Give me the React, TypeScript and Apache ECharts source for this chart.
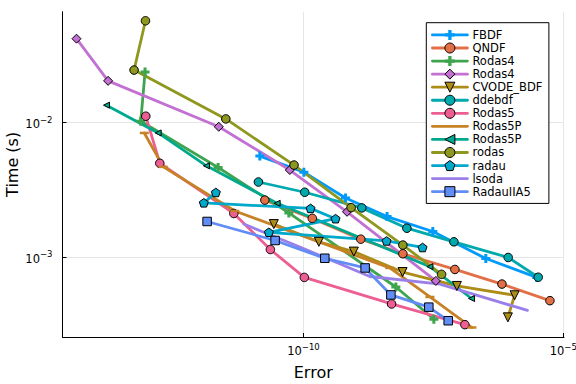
import React, { useEffect, useRef } from 'react';
import * as echarts from 'echarts';

// ---- data (Error, Time in seconds) ----
const seriesLabels = ['FBDF', 'QNDF', 'Rodas4', 'Rodas4', 'CVODE_BDF', 'ddebdf', 'Rodas5', 'Rodas5P', 'Rodas5P', 'rodas', 'radau', 'lsoda', 'RadauIIA5'];

const fbdfError = [1.45e-11, 1.02e-10, 6.46e-10, 4.07e-9, 3.09e-8, 3.24e-7, 3.09e-6];
const fbdfTime = [5.62e-3, 4.27e-3, 2.75e-3, 2.0e-3, 1.55e-3, 9.77e-4, 7.08e-4];

const qndfError = [1.81e-11, 1.48e-10, 1.27e-9, 8.2e-9, 8.22e-8, 6.61e-7, 5.55e-6];
const qndfTime = [2.65e-3, 1.94e-3, 1.36e-3, 1.06e-3, 8.11e-4, 6.32e-4, 4.76e-4];

const rodas4aError = [8.95e-14, 7.4e-14, 2.28e-12, 5.24e-11, 6.01e-9, 3.24e-8];
const rodas4aTime = [2.36e-2, 1.02e-2, 4.62e-3, 2.13e-3, 6.01e-4, 3.47e-4];

const rodas4bError = [4.29e-15, 1.74e-14, 2.35e-12, 5.47e-11, 6.9e-10, 3.54e-8];
const rodas4bTime = [4.17e-2, 2.03e-2, 9.27e-3, 4.43e-3, 2.17e-3, 6.67e-4];

const cvodeError = [2.69e-11, 1.98e-10, 9.33e-10, 8.09e-9, 8.97e-8, 1.16e-6, 8.61e-7];
const cvodeTime = [1.76e-3, 1.3e-3, 1.1e-3, 7.76e-4, 6.12e-4, 5.22e-4, 3.58e-4];

const ddebdfError = [1.36e-11, 1.06e-10, 1.33e-9, 9.79e-9, 7.87e-8, 8.73e-7, 3.3e-6];
const ddebdfTime = [3.61e-3, 3.03e-3, 2.32e-3, 1.64e-3, 1.3e-3, 9.95e-4, 7.1e-4];

const rodas5Error = [9.25e-14, 1.72e-13, 4.57e-12, 2.31e-11, 1.04e-10, 4.97e-9, 1.28e-7];
const rodas5Time = [1.11e-2, 4.97e-3, 2.11e-3, 1.14e-3, 7.08e-4, 4.5e-4, 3.16e-4];

const rodas5PaError = [8.65e-14, 2.01e-13, 4.78e-12, 4.6e-9, 2.72e-8, 1.75e-7];
const rodas5PaTime = [8.34e-3, 4.67e-3, 2.2e-3, 8.32e-4, 5.07e-4, 3.01e-4];

const rodas5PbError = [1.62e-14, 1.6e-13, 1.36e-12, 3.12e-11, 2.72e-8, 1.72e-7];
const rodas5PbTime = [1.34e-2, 8.34e-3, 4.76e-3, 2.51e-3, 8.51e-4, 4.94e-4];

const rodasError = [9.12e-14, 5.5e-14, 3.21e-12, 6.59e-11, 8.28e-10, 8.2e-9, 4.56e-8];
const rodasTime = [5.66e-2, 2.44e-2, 1.06e-2, 4.82e-3, 2.33e-3, 1.23e-3, 7.46e-4];

const radauError = [2.06e-12, 1.21e-12, 1.37e-10, 4.15e-10, 2.16e-11, 3.98e-9, 1.96e-8];
const radauTime = [3.02e-3, 2.53e-3, 2.3e-3, 1.93e-3, 1.53e-3, 1.32e-3, 1.18e-3];

const lsodaError = [7.13e-12, 8.53e-11, 1.9e-9, 4.23e-8, 2.05e-6];
const lsodaTime = [1.76e-3, 1.19e-3, 7.19e-4, 6.32e-4, 4.03e-4];

const radauIIA5Error = [1.4e-12, 2.85e-11, 2.58e-10, 1.54e-9, 4.82e-9, 2.59e-8, 6.11e-8];
const radauIIA5Time = [1.84e-3, 1.33e-3, 9.82e-4, 8.32e-4, 5.25e-4, 4.26e-4, 3.38e-4];

// axis ticks (powers of ten)
const xTickExponents = [-10, -5];
const yTickExponents = [-3, -2];
const xRange = [1e-10 / 43350, 1.035e-5];
const yRange = [2.56e-4, 6.61e-2];

// ---- styles ----
const FONT = '"DejaVu Sans", sans-serif';
const CROSS = 'path://M-1,-3H1V-1H3V1H1V3H-1V1H-3V-1H-1Z';
const PENTAGON = 'path://M0,-1L0.951,-0.309L0.588,0.809L-0.588,0.809L-0.951,-0.309Z';

type Def = { key: string; err: number[]; time: number[]; color: string; symbol: string; size: any; rotate?: number; border: number; legendSymbol: boolean };

const defs: Def[] = [
  { key: 'FBDF', err: fbdfError, time: fbdfTime, color: '#009AFA', symbol: CROSS, size: 9, border: 0, legendSymbol: true },
  { key: 'QNDF', err: qndfError, time: qndfTime, color: '#E36F47', symbol: 'circle', size: 8.5, border: 1, legendSymbol: true },
  { key: 'Rodas4', err: rodas4aError, time: rodas4aTime, color: '#3EA44E', symbol: CROSS, size: 9, border: 0, legendSymbol: true },
  { key: 'Rodas4 #2', err: rodas4bError, time: rodas4bTime, color: '#C271D2', symbol: 'diamond', size: 9, border: 1, legendSymbol: true },
  { key: 'CVODE_BDF', err: cvodeError, time: cvodeTime, color: '#AC8D18', symbol: 'triangle', size: 9, rotate: 180, border: 1, legendSymbol: true },
  { key: 'ddebdf', err: ddebdfError, time: ddebdfTime, color: '#00A9AD', symbol: 'circle', size: 8.5, border: 1, legendSymbol: true },
  { key: 'Rodas5', err: rodas5Error, time: rodas5Time, color: '#ED5E93', symbol: 'circle', size: 8.5, border: 1, legendSymbol: true },
  { key: 'Rodas5P', err: rodas5PaError, time: rodas5PaTime, color: '#C68225', symbol: 'rect', size: [9, 2.5], border: 0, legendSymbol: false },
  { key: 'Rodas5P #2', err: rodas5PbError, time: rodas5PbTime, color: '#00A98D', symbol: 'triangle', size: 6, rotate: 90, border: 1, legendSymbol: true },
  { key: 'rodas', err: rodasError, time: rodasTime, color: '#8E971E', symbol: 'circle', size: 8.5, border: 1, legendSymbol: true },
  { key: 'radau', err: radauError, time: radauTime, color: '#00A8CB', symbol: PENTAGON, size: 9, border: 1, legendSymbol: true },
  { key: 'lsoda', err: lsodaError, time: lsodaTime, color: '#9B7FE9', symbol: 'none', size: 0, border: 0, legendSymbol: false },
  { key: 'RadauIIA5', err: radauIIA5Error, time: radauIIA5Time, color: '#618DF6', symbol: 'rect', size: 8.5, border: 1, legendSymbol: true },
];

const supFmt = (v: number) => `{b|10}{s|${v < 0 ? '\u2212' : ''}${Math.abs(Math.round(v))}}`;
const rich = {
  b: { fontSize: 11.5, lineHeight: 18, fontFamily: FONT, color: '#000' },
  s: { fontSize: 8.5, lineHeight: 8, verticalAlign: 'top', fontFamily: FONT, color: '#000' },
};

export default function App() {
  const ref = useRef<HTMLDivElement>(null);
  useEffect(() => {
    document.body.style.margin = '0';
    const chart = echarts.init(ref.current!, null, { renderer: 'svg' });
    const series = defs.map((d) => ({
      type: 'line',
      name: d.key,
      data: d.err.map((e, j) => [Math.log10(e), Math.log10(d.time[j])]),
      symbol: d.symbol,
      symbolSize: d.size,
      symbolRotate: d.rotate || 0,
      symbolKeepAspect: true,
      showSymbol: d.symbol !== 'none',
      lineStyle: { color: d.color, width: 2.8, join: 'round', cap: 'round' },
      itemStyle: { color: d.color, borderColor: '#000', borderWidth: d.border },
      emphasis: { disabled: true },
      animation: false,
    }));
    const legendData = defs.map((d) => ({
      name: d.key,
      itemStyle: d.legendSymbol ? { borderWidth: d.border, borderColor: '#000' } : { opacity: 0 },
    }));
    chart.setOption({
      animation: false,
      backgroundColor: '#fff',
      textStyle: { fontFamily: FONT },
      grid: { left: 62.5, right: 12, top: 11.7, bottom: 47, containLabel: false, outerBoundsMode: 'none' },
      xAxis: {
        type: 'value',
        min: Math.log10(xRange[0]),
        max: Math.log10(xRange[1]),
        name: 'Error',
        nameLocation: 'middle',
        nameGap: 27,
        nameMoveOverlap: false,
        nameTextStyle: { fontSize: 16, fontFamily: FONT, color: '#000', lineHeight: 16 },
        axisLine: { show: true, onZero: false, lineStyle: { color: '#000', width: 1 } },
        axisTick: { show: true, inside: true, length: 4, customValues: xTickExponents, lineStyle: { color: '#000', width: 1 } },
        axisLabel: { show: true, customValues: xTickExponents, margin: 5, formatter: supFmt, rich },
        splitLine: { show: true, lineStyle: { color: '#e6e6e6', width: 1 } },
        minorTick: { show: false },
      },
      yAxis: {
        type: 'value',
        min: Math.log10(yRange[0]),
        max: Math.log10(yRange[1]),
        name: 'Time (s)',
        nameLocation: 'middle',
        nameGap: 42,
        nameRotate: 90,
        nameMoveOverlap: false,
        nameTextStyle: { fontSize: 16, fontFamily: FONT, color: '#000', lineHeight: 16, padding: [0, 0, 0, 20] },
        axisLine: { show: true, onZero: false, lineStyle: { color: '#000', width: 1 } },
        axisTick: { show: true, inside: true, length: 4, customValues: yTickExponents, lineStyle: { color: '#000', width: 1 } },
        axisLabel: { show: true, customValues: yTickExponents, margin: 10, formatter: supFmt, rich, padding: [3.4, 0, 0, 0] },
        splitLine: { show: true, lineStyle: { color: '#e6e6e6', width: 1 } },
        minorTick: { show: false },
      },
      legend: {
        show: true,
        orient: 'vertical',
        left: 426.3,
        top: 22.7,
        padding: [6, 6.5, 5.5, 4.7],
        itemWidth: 35,
        itemHeight: 12.5,
        itemGap: 0.56,
        backgroundColor: '#fff',
        borderColor: '#000',
        borderWidth: 1,
        borderRadius: 0,
        selectedMode: false,
        lineStyle: { width: 2.8 },
        textStyle: { fontSize: 11.5, fontFamily: FONT, color: '#000', lineHeight: 12.5 },
        formatter: (n: string) => n.replace(' #2', ''),
        data: legendData,
      },
      series,
    });
    return () => chart.dispose();
  }, []);
  return <div ref={ref} style={{ width: 576, height: 384, position: 'absolute', left: 0, top: 0 }} />;
}
